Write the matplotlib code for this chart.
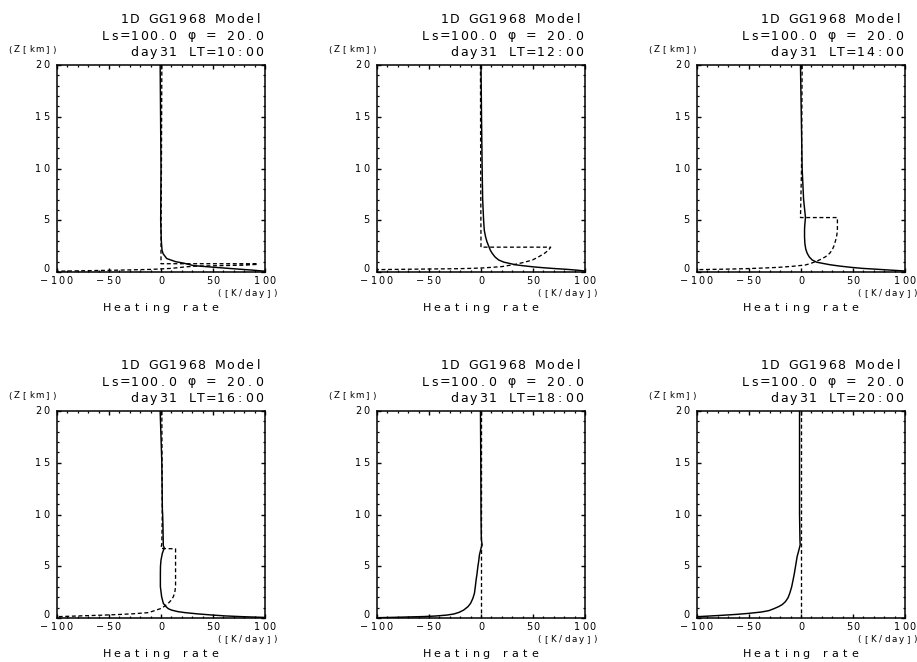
import matplotlib
matplotlib.use("Agg")
import matplotlib.pyplot as plt
from matplotlib.ticker import MultipleLocator

# ---- heating-rate profiles (z in km, rate in K/day) ----
local_times = [10, 12, 14, 16, 18, 20]

z_solid_10 = [20, 10, 5, 3, 2.1, 1.77, 1.3, 1.0, 0.85, 0.7, 0.62, 0.48, 0.35, 0.26, 0.18, 0.1, 0.0]
hr_solid_10 = [-0.8, 0, -0.3, 0.3, 1, 2, 5.5, 14, 22, 28, 31, 48, 65, 77, 88, 97, 115]
z_dash_10 = [20, 10, 2, 0.8, 0.8, 0.74, 0.66, 0.6, 0.56, 0.48, 0.35, 0.25, 0.18, 0.12, 0.08, 0.0]
hr_dash_10 = [0.8, 0.4, 0, 0, 92, 93, 80, 50, 32, 22, 10, -10, -40, -75, -100, -140]

z_solid_12 = [20, 15, 10, 7, 5, 4, 3.4, 2.9, 2.45, 2.1, 1.8, 1.45, 1.16, 0.95, 0.84, 0.7,
              0.61, 0.5, 0.42, 0.33, 0.26, 0.18, 0.1, 0.0]
hr_solid_12 = [0, 0.5, 1.1, 1.6, 2.5, 3.2, 4.4, 5.8, 7.6, 9, 10.8, 13.5, 17, 22, 27, 33,
               40, 50, 59, 71, 82, 92, 99.5, 115]
z_dash_12 = [20, 10, 2.4, 2.4, 2.2, 2.0, 1.8, 1.5, 1.16, 0.95, 0.74, 0.62, 0.52, 0.45, 0.39,
             0.35, 0.32, 0.29, 0.26, 0.23, 0.15]
hr_dash_12 = [-0.5, -0.3, 0, 67, 65.5, 63.5, 61, 56, 49.5, 42, 33, 26, 20, 10, 1,
              -10, -21.5, -50, -75, -99, -140]

z_solid_14 = [20, 15, 10, 7, 5.26, 4.5, 4.06, 3.4, 2.77, 2.2, 1.8, 1.45, 1.16, 0.95, 0.84,
              0.7, 0.58, 0.45, 0.35, 0.27, 0.19, 0.1, 0.0]
hr_solid_14 = [-0.5, 0.3, 1.1, 2.5, 4.3, 3.6, 3.4, 3.4, 3.7, 4.6, 6, 8, 10.8, 15, 20.5,
               28, 36.6, 48, 59, 72, 85, 99.5, 115]
z_dash_14 = [20, 10, 5.26, 5.26, 4.5, 4.06, 3.6, 3.1, 2.6, 2.13, 1.8, 1.48, 1.2, 1.0, 0.82,
             0.68, 0.55, 0.45, 0.38, 0.32, 0.27, 0.23, 0.15]
hr_dash_14 = [1.1, 0.5, -0.5, 35, 35, 35, 34.5, 33.4, 32, 30, 27.5, 23.7, 18.5, 14, 9,
              4.4, -8, -21.5, -37, -53.7, -75, -99, -130]

z_solid_16 = [20, 15, 10.5, 10, 8.8, 7, 6.74, 6.5, 6.26, 5.6, 5, 4.3, 3.03, 2.06, 1.42, 1.1,
              0.9, 0.77, 0.62, 0.52, 0.4, 0.29, 0.2, 0.13, 0.06, 0.0]
hr_solid_16 = [-0.8, 0.8, 1.3, 1.6, 1.9, 2.2, 3.2, 2.2, 1.3, 0, -0.5, -0.6, -0.6, 0.6, 2.2, 4.8,
               7, 10, 16, 23, 35, 48.7, 62, 77.6, 98.4, 115]
z_dash_16 = [20, 10, 7.2, 6.72, 6.68, 5, 4, 3.03, 2.5, 2.06, 1.7, 1.42, 1.15, 0.94, 0.72,
             0.52, 0.42, 0.35, 0.28, 0.23, 0.13, 0.05]
hr_dash_16 = [0.8, 1.2, 0.8, 0, 14, 14, 14, 14, 13.3, 11.9, 9.6, 7, 3.5, 0.6, -6,
              -12, -25, -37.8, -55, -70, -99, -130]

z_solid_18 = [20, 15, 10, 7.6, 7.06, 6.8, 6.1, 5.5, 4.97, 4.3, 3.68, 3.0, 2.39, 1.9, 1.42,
              1.1, 0.77, 0.55, 0.39, 0.28, 0.19, 0.14, 0.1, 0.06, 0.03, 0.0]
hr_solid_18 = [-0.5, -0.2, 0, 0.3, 1.1, 0.2, -1.5, -2.2, -3, -3.8, -4.7, -5.5, -6.3, -7.8, -10,
               -12.5, -16.6, -21, -26, -33, -44, -55, -70, -85, -99, -115]
z_dash_18 = [20, 0]
hr_dash_18 = [0, 0]

z_solid_20 = [20, 10, 7.5, 7.06, 6.5, 5.94, 4.97, 4.3, 3.68, 3.0, 2.39, 1.95, 1.58, 1.3, 1.1,
              0.9, 0.71, 0.58, 0.45, 0.35, 0.26, 0.18, 0.13, 0.0]
hr_solid_20 = [-1.4, -1.4, -1.0, -0.8, -2.2, -3.7, -5.3, -6.4, -7.6, -9, -10.8, -12.5, -15, -18, -21.5,
               -26, -31, -38, -50, -62, -76, -90, -99, -130]
z_dash_20 = [20, 0]
hr_dash_20 = [0, 0]

solid_profiles = [(z_solid_10, hr_solid_10), (z_solid_12, hr_solid_12), (z_solid_14, hr_solid_14),
                  (z_solid_16, hr_solid_16), (z_solid_18, hr_solid_18), (z_solid_20, hr_solid_20)]
dashed_profiles = [(z_dash_10, hr_dash_10), (z_dash_12, hr_dash_12), (z_dash_14, hr_dash_14),
                   (z_dash_16, hr_dash_16), (z_dash_18, hr_dash_18), (z_dash_20, hr_dash_20)]

x_ticks = [-100, -50, 0, 50, 100]
y_ticks = [0, 5, 10, 15, 20]

# ---- figure layout (pixel geometry) ----
W, H, DPI = 917, 662, 100
fig = plt.figure(figsize=(W / DPI, H / DPI), dpi=DPI)
fig.patch.set_facecolor("white")

col_left = [57, 377, 697]
row_top = [65, 411]
ax_w, ax_h = 208, 207
FONT = "DejaVu Sans"
MINUS = "\u2212"


def spaced(ax, s, xy, coords, dx, dy, adv, size, align, minus_adv=None):
    """Draw a string one glyph at a time with a fixed advance (pixels)."""
    steps = []
    for ch in s[:-1]:
        steps.append(minus_adv if (ch == MINUS and minus_adv) else adv)
    centers = [0.0]
    for st in steps:
        centers.append(centers[-1] + st)
    span = centers[-1]
    if align == "right":
        shift = dx - span - adv * 0.42
    elif align == "left":
        shift = dx + adv * 0.42
    else:
        shift = dx - span / 2.0
    for ch, cx in zip(s, centers):
        if ch == " ":
            continue
        ax.annotate(ch, xy=xy, xycoords=coords, xytext=(shift + cx, dy),
                    textcoords="offset pixels", ha="center", va="center",
                    fontsize=size, family=FONT, annotation_clip=False, color="black")


def fmt(v):
    return str(v).replace("-", MINUS)


for k, lt in enumerate(local_times):
    r, c = divmod(k, 3)
    left = col_left[c] / W
    bottom = 1 - (row_top[r] + ax_h) / H
    ax = fig.add_axes([left, bottom, ax_w / W, ax_h / H])

    zs, hs = solid_profiles[k]
    zd, hd = dashed_profiles[k]
    ax.plot(hs, zs, color="black", lw=1.05, solid_joinstyle="round")
    ax.plot(hd, zd, color="black", lw=0.95, ls=(0, (3, 2)))

    ax.set_xlim(-100, 100)
    ax.set_ylim(0, 20)
    ax.xaxis.set_major_locator(MultipleLocator(50))
    ax.xaxis.set_minor_locator(MultipleLocator(10))
    ax.yaxis.set_major_locator(MultipleLocator(5))
    ax.yaxis.set_minor_locator(MultipleLocator(1))
    ax.tick_params(which="both", direction="in", top=True, right=True,
                   labelbottom=False, labelleft=False, color="black")
    ax.tick_params(which="major", length=2.8, width=1.0)
    ax.tick_params(which="minor", length=1.6, width=0.9)
    for sp in ax.spines.values():
        sp.set_linewidth(1.1)

    # tick labels
    for v in x_ticks:
        spaced(ax, fmt(v), (v, 0), ("data", "axes fraction"), 0, -9, 7.8, 7.0, "center",
               minus_adv=9.4)
    for v in y_ticks:
        lift = 2.5 if v == 0 else 0
        spaced(ax, fmt(v), (0, v), ("axes fraction", "data"), -7, lift, 8.2, 7.0, "right")

    # headings and axis captions
    spaced(ax, "1D GG1968 Model", (1, 1), "axes fraction", -2, 45.5, 9.6, 9.0, "right")
    spaced(ax, "Ls=100.0 \u03c6 = 20.0", (1, 1), "axes fraction", -2, 29, 9.6, 9.0, "right")
    spaced(ax, f"day31 LT={lt}:00", (1, 1), "axes fraction", -2, 12.5, 9.6, 9.0, "right")
    spaced(ax, "(Z[km])", (0, 1), "axes fraction", 0, 15, 7.4, 6.3, "right")
    spaced(ax, "([K/day])", (1, 0), "axes fraction", 13, -21.5, 7.0, 6.3, "right")
    spaced(ax, "Heating rate", (0.5, 0), "axes fraction", 0, -36, 9.8, 8.0, "center")

fig.savefig("out.png", dpi=DPI, facecolor="white")
